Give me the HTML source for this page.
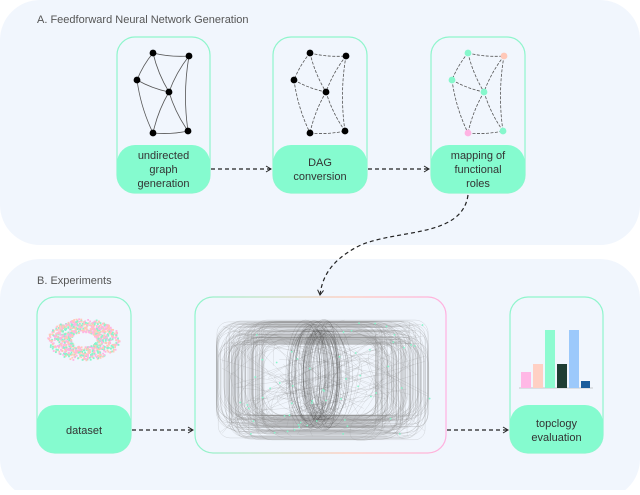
<!DOCTYPE html>
<html><head><meta charset="utf-8"><style>
body{margin:0;background:#fff;width:640px;height:490px;overflow:hidden;font-family:"Liberation Sans",sans-serif}
</style></head><body>
<svg id="s" width="640" height="490" viewBox="0 0 640 490" xmlns="http://www.w3.org/2000/svg">
<defs>
<marker id="ah" markerWidth="8" markerHeight="8" refX="6" refY="4" orient="auto" markerUnits="userSpaceOnUse"><path d="M1,1 L6,4 L1,7" fill="none" stroke="#222" stroke-width="1"/></marker>
<linearGradient id="gb" x1="0" x2="1"><stop offset="0" stop-color="#8ff5cc"/><stop offset="0.6" stop-color="#ffc9b8"/><stop offset="1" stop-color="#ffb0e0"/></linearGradient>
</defs>
<rect x="0" y="0" width="640" height="245" rx="40" fill="#f1f6fd"/>
<rect x="0" y="259" width="640" height="240" rx="40" fill="#f1f6fd"/>
<text x="37" y="23" font-size="11" fill="#555">A. Feedforward Neural Network Generation</text>
<text x="37" y="284" font-size="11" fill="#555">B. Experiments</text>

<g id="boxes" font-size="11" fill="#333" text-anchor="middle"></g>
<g id="graphs"></g>
<g id="scatter"></g>
<g id="web"></g>

<g stroke="#222" stroke-width="1.2" stroke-dasharray="4,3" fill="none" marker-end="url(#ah)">
<path d="M211,169 L271,169"/>
<path d="M368,169 L429,169"/>
<path d="M132,430 L193,430"/>
<path d="M447,430 L508,430"/>
<path d="M468,195 C462,240 390,228 355,248 C330,262 322,278 320,295"/>
</g>

<g>
<line x1="519" y1="388" x2="593" y2="388" stroke="#999" stroke-width="0.6"/>
<rect x="521" y="372" width="10" height="16" fill="#ffb8e6"/>
<rect x="533" y="364" width="10" height="24" fill="#ffd0c4"/>
<rect x="545" y="330" width="10" height="58" fill="#8dfbd0"/>
<rect x="557" y="364" width="10" height="24" fill="#1e3d33"/>
<rect x="569" y="330" width="10" height="58" fill="#9cc9fb"/>
<rect x="581" y="381" width="9" height="7" fill="#1a5c9c"/>
</g>
</svg>
<script>
var NS="http://www.w3.org/2000/svg";
function el(t,a,p){var e=document.createElementNS(NS,t);for(var k in a)e.setAttribute(k,a[k]);(p||document.getElementById('s')).appendChild(e);return e;}
var B=document.getElementById('boxes');
function box(x,y,w,h,gy,lines,ty){
 el('rect',{x:x,y:y,width:w,height:h,rx:18,fill:'none',stroke:'#8ff5cc','stroke-width':1.2},B);
 el('rect',{x:x,y:gy,width:w,height:y+h-gy,rx:18,fill:'#85fbcf'},B);
 lines.forEach(function(l,i){var t=el('text',{x:x+w/2,y:ty+i*14},B);t.textContent=l;});
}
box(117,37,93,156,145,["undirected","graph","generation"],159);
box(273,37,94,156,145,["DAG","conversion"],166);
box(431,37,94,156,145,["mapping of","functional","roles"],159);
box(37,297,94,156,405,["dataset"],434);
box(510,297,93,156,405,["topclogy","evaluation"],427);
el('rect',{x:195,y:297,width:251,height:156,rx:18,fill:'none',stroke:'url(#gb)','stroke-width':1.2},B);

var G=document.getElementById('graphs');
var P=[[153,53],[189,56],[137,80],[169,92],[153,133],[188,131]];
var E=[[0,1],[0,2],[0,3],[1,3],[1,5],[2,3],[2,4],[3,4],[3,5],[4,5]];
var cols=[["#000","#000","#000","#000","#000","#000"],["#000","#000","#000","#000","#000","#000"],["#86f7cc","#ffc8b8","#86f7cc","#86f7cc","#ffb3e3","#86f7cc"]];
[0,157,315].forEach(function(dx,gi){
 E.forEach(function(e){var a=P[e[0]],b=P[e[1]];var mx=(a[0]+b[0])/2+dx+(a[1]-b[1])*0.08,my=(a[1]+b[1])/2+(b[0]-a[0])*0.08;
  el('path',{d:'M'+(a[0]+dx)+','+a[1]+' Q'+mx+','+my+' '+(b[0]+dx)+','+b[1],fill:'none',stroke:'#555','stroke-width':0.8,'stroke-dasharray':(gi==0?'none':'3,1.5')},G);});
 P.forEach(function(p,i){el('circle',{cx:p[0]+dx,cy:p[1],r:3.4,fill:cols[gi][i]},G);});
});
var seed=7;function r(){seed=(seed*16807)%2147483647;return seed/2147483647;}
var S=document.getElementById('scatter');
var sc=["#ffb3e3","#86f7cc","#ffc8b8"];
for(var i=0;i<900;i++){var t=r()*6.283,rad=0.35+r()*0.65;var x=83+Math.cos(t)*rad*36,y=339+Math.sin(t)*rad*21;
 el('rect',{x:x,y:y,width:1.8,height:1.8,fill:sc[Math.floor(r()*3)]},S);}
var W=document.getElementById('web');
for(var i=0;i<110;i++){
 var x0=215+r()*50,y0=320+r()*25,x1=375+r()*55,y1=415+r()*25;
 el('rect',{x:x0,y:y0,width:x1-x0,height:y1-y0,rx:10+r()*20,fill:'none',stroke:'#888','stroke-width':0.45,'stroke-opacity':0.35},W);
}
for(var i=0;i<90;i++){
 var x1=218+r()*210,y1=320+r()*118,x2=218+r()*210,y2=320+r()*118;
 var cx=305+(r()-0.5)*220,cy=378+(r()-0.5)*160;
 el('path',{d:'M'+x1+','+y1+' Q'+cx+','+cy+' '+x2+','+y2,fill:'none',stroke:'#888','stroke-width':0.4,'stroke-opacity':0.35},W);
}
for(var i=0;i<50;i++){var cx=318+(r()-0.5)*25,cy=375;
 el('ellipse',{cx:cx,cy:cy,rx:8+r()*15,ry:38+r()*18,fill:'none',stroke:'#555','stroke-width':0.4,'stroke-opacity':0.4},W);}
for(var i=0;i<60;i++){el('circle',{cx:240+r()*190,cy:322+r()*112,r:0.9,fill:'#86f7cc'},W);}
</script>
</body></html>
